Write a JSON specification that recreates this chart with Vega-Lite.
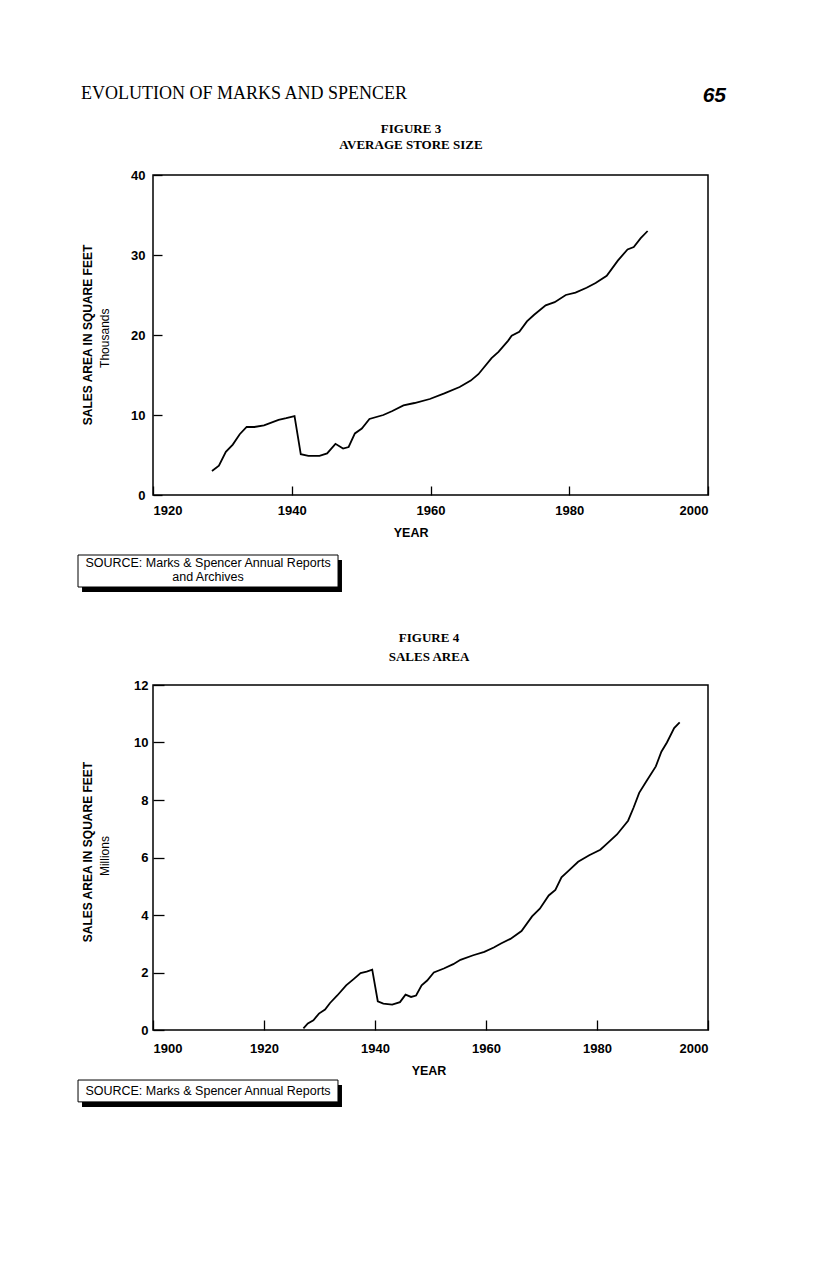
{
  "$schema": "https://vega.github.io/schema/vega-lite/v6.json",
  "background": "white",
  "padding": {"left": 76, "top": 84, "right": 10, "bottom": 10},
  "bounds": "flush",
  "spacing": 190,
  "config": {
    "view": {"stroke": "black", "strokeWidth": 1.5},
    "axis": {"grid": false, "domain": false, "tickColor": "black", "tickWidth": 1.3, "labelFont": "Liberation Sans", "labelFontWeight": "bold", "labelFontSize": 13, "labelColor": "black"}
  },
  "datasets": {
    "store": [
      {"year": 1928.5, "size": 3.0}, {"year": 1929.5, "size": 3.66}, {"year": 1930.5, "size": 5.4}, {"year": 1931.5, "size": 6.3},
      {"year": 1932.5, "size": 7.6}, {"year": 1933.5, "size": 8.5}, {"year": 1934.6, "size": 8.5}, {"year": 1936, "size": 8.7},
      {"year": 1938.1, "size": 9.4}, {"year": 1939.2, "size": 9.6}, {"year": 1940.4, "size": 9.85}, {"year": 1941.3, "size": 5.1},
      {"year": 1942.4, "size": 4.9}, {"year": 1944, "size": 4.9}, {"year": 1945.1, "size": 5.2}, {"year": 1946.3, "size": 6.4},
      {"year": 1947.4, "size": 5.8}, {"year": 1948.2, "size": 6.0}, {"year": 1949.1, "size": 7.7}, {"year": 1950.1, "size": 8.3},
      {"year": 1951.2, "size": 9.5}, {"year": 1953.2, "size": 10.0}, {"year": 1954.5, "size": 10.5}, {"year": 1956.1, "size": 11.2},
      {"year": 1957.7, "size": 11.5}, {"year": 1959.9, "size": 12.0}, {"year": 1962, "size": 12.7}, {"year": 1964.2, "size": 13.5},
      {"year": 1965.8, "size": 14.3}, {"year": 1966.9, "size": 15.1}, {"year": 1968.8, "size": 17.1}, {"year": 1969.8, "size": 17.9},
      {"year": 1971.2, "size": 19.3}, {"year": 1971.7, "size": 19.9}, {"year": 1972.8, "size": 20.4}, {"year": 1973.9, "size": 21.7},
      {"year": 1974.9, "size": 22.5}, {"year": 1976.6, "size": 23.7}, {"year": 1977.9, "size": 24.1}, {"year": 1979.5, "size": 25.0},
      {"year": 1980.9, "size": 25.3}, {"year": 1982.5, "size": 25.9}, {"year": 1983.8, "size": 26.5}, {"year": 1985.4, "size": 27.4},
      {"year": 1987, "size": 29.3}, {"year": 1988.4, "size": 30.7}, {"year": 1989.3, "size": 31.0}, {"year": 1990.3, "size": 32.1},
      {"year": 1991.3, "size": 33.0}
    ],
    "area": [
      {"year": 1927.1, "area": 0.06}, {"year": 1927.9, "area": 0.23}, {"year": 1928.9, "area": 0.34}, {"year": 1929.9, "area": 0.57},
      {"year": 1931, "area": 0.71}, {"year": 1931.9, "area": 0.94}, {"year": 1933.2, "area": 1.2}, {"year": 1934.8, "area": 1.55},
      {"year": 1936.2, "area": 1.78}, {"year": 1937.4, "area": 1.98}, {"year": 1938.5, "area": 2.03}, {"year": 1939.5, "area": 2.1},
      {"year": 1940.5, "area": 1.0}, {"year": 1941.5, "area": 0.92}, {"year": 1943.1, "area": 0.88}, {"year": 1944.5, "area": 0.97},
      {"year": 1945.5, "area": 1.23}, {"year": 1946.5, "area": 1.15}, {"year": 1947.4, "area": 1.2}, {"year": 1948.4, "area": 1.55},
      {"year": 1949.4, "area": 1.72}, {"year": 1950.6, "area": 2.0}, {"year": 1952.4, "area": 2.14}, {"year": 1954.1, "area": 2.29},
      {"year": 1955.4, "area": 2.44}, {"year": 1957.7, "area": 2.6}, {"year": 1959.7, "area": 2.72}, {"year": 1961.4, "area": 2.87},
      {"year": 1962.7, "area": 3.01}, {"year": 1964.4, "area": 3.17}, {"year": 1966.4, "area": 3.44}, {"year": 1968.3, "area": 3.95},
      {"year": 1969.7, "area": 4.22}, {"year": 1971.3, "area": 4.68}, {"year": 1972.5, "area": 4.87}, {"year": 1973.6, "area": 5.31},
      {"year": 1975, "area": 5.56}, {"year": 1976.6, "area": 5.85}, {"year": 1978.6, "area": 6.08}, {"year": 1980.6, "area": 6.27},
      {"year": 1981.9, "area": 6.5}, {"year": 1983.6, "area": 6.8}, {"year": 1985.6, "area": 7.28}, {"year": 1986.6, "area": 7.74},
      {"year": 1987.6, "area": 8.25}, {"year": 1988.9, "area": 8.65}, {"year": 1990.6, "area": 9.17}, {"year": 1991.6, "area": 9.68},
      {"year": 1992.6, "area": 10.0}, {"year": 1993.9, "area": 10.5}, {"year": 1994.9, "area": 10.7}
    ]
  },
  "vconcat": [
    {
      "width": 555,
      "height": 320,
      "layer": [
        {
          "data": {"name": "store"},
          "mark": {"type": "line", "color": "black", "strokeWidth": 1.8},
          "encoding": {
            "x": {"field": "year", "type": "quantitative", "scale": {"domain": [1920, 2000], "nice": false, "zero": false},
                  "axis": {"values": [1920, 1940, 1960, 1980, 2000], "format": "d", "tickSize": -9, "labelPadding": 18, "title": null}},
            "y": {"field": "size", "type": "quantitative", "scale": {"domain": [0, 40], "nice": false},
                  "axis": {"values": [0, 10, 20, 30, 40], "tickSize": -9, "labelPadding": 17, "title": null}}
          }
        },
        {
          "data": {"values": [{}]},
          "mark": {"type": "text", "text": "EVOLUTION OF MARKS AND SPENCER", "font": "Liberation Serif", "fontSize": 18, "align": "left", "baseline": "alphabetic", "color": "black"},
          "encoding": {"x": {"datum": 1909.62, "type": "quantitative"}, "y": {"datum": 49.5, "type": "quantitative"}}
        },
        {
          "data": {"values": [{}]},
          "mark": {"type": "text", "text": "65", "font": "Liberation Sans", "fontWeight": "bold", "fontStyle": "italic", "fontSize": 21, "align": "right", "baseline": "alphabetic", "color": "black"},
          "encoding": {"x": {"datum": 2002.6, "type": "quantitative"}, "y": {"datum": 49.125, "type": "quantitative"}}
        },
        {
          "data": {"values": [{}]},
          "mark": {"type": "text", "text": "FIGURE 3", "font": "Liberation Serif", "fontWeight": "bold", "fontSize": 13, "align": "center", "baseline": "middle", "color": "black"},
          "encoding": {"x": {"datum": 1957.19, "type": "quantitative"}, "y": {"datum": 45.75, "type": "quantitative"}}
        },
        {
          "data": {"values": [{}]},
          "mark": {"type": "text", "text": "AVERAGE STORE SIZE", "font": "Liberation Serif", "fontWeight": "bold", "fontSize": 13, "align": "center", "baseline": "middle", "color": "black"},
          "encoding": {"x": {"datum": 1957.19, "type": "quantitative"}, "y": {"datum": 43.75, "type": "quantitative"}}
        },
        {
          "data": {"values": [{}]},
          "mark": {"type": "text", "text": "SALES AREA IN SQUARE FEET", "font": "Liberation Sans", "fontWeight": "bold", "fontSize": 12, "angle": 270, "align": "center", "baseline": "middle", "color": "black"},
          "encoding": {"x": {"datum": 1910.63, "type": "quantitative"}, "y": {"datum": 20, "type": "quantitative"}}
        },
        {
          "data": {"values": [{}]},
          "mark": {"type": "text", "text": "Thousands", "font": "Liberation Sans", "fontSize": 12, "angle": 270, "align": "center", "baseline": "middle", "color": "black"},
          "encoding": {"x": {"datum": 1913.15, "type": "quantitative"}, "y": {"datum": 19.6, "type": "quantitative"}}
        },
        {
          "data": {"values": [{}]},
          "mark": {"type": "text", "text": "YEAR", "font": "Liberation Sans", "fontWeight": "bold", "fontSize": 12.5, "align": "center", "baseline": "middle", "color": "black"},
          "encoding": {"x": {"datum": 1957.2, "type": "quantitative"}, "y": {"datum": -4.75, "type": "quantitative"}}
        },
        {
          "data": {"values": [{}]},
          "mark": {"type": "rect", "color": "black"},
          "encoding": {"x": {"datum": 1909.77, "type": "quantitative"}, "x2": {"datum": 1947.24},
                       "y": {"datum": -8.125, "type": "quantitative"}, "y2": {"datum": -12.125}}
        },
        {
          "data": {"values": [{}]},
          "mark": {"type": "rect", "fill": "white", "stroke": "black", "strokeWidth": 1},
          "encoding": {"x": {"datum": 1909.19, "type": "quantitative"}, "x2": {"datum": 1946.67},
                       "y": {"datum": -7.5, "type": "quantitative"}, "y2": {"datum": -11.5}}
        },
        {
          "data": {"values": [{}]},
          "mark": {"type": "text", "text": "SOURCE: Marks & Spencer Annual Reports", "font": "Liberation Sans", "fontSize": 12.5, "align": "center", "baseline": "middle", "color": "black"},
          "encoding": {"x": {"datum": 1927.93, "type": "quantitative"}, "y": {"datum": -8.5, "type": "quantitative"}}
        },
        {
          "data": {"values": [{}]},
          "mark": {"type": "text", "text": "and Archives", "font": "Liberation Sans", "fontSize": 12.5, "align": "center", "baseline": "middle", "color": "black"},
          "encoding": {"x": {"datum": 1927.93, "type": "quantitative"}, "y": {"datum": -10.3, "type": "quantitative"}}
        }
      ]
    },
    {
      "width": 555,
      "height": 345,
      "layer": [
        {
          "data": {"name": "area"},
          "mark": {"type": "line", "color": "black", "strokeWidth": 1.8},
          "encoding": {
            "x": {"field": "year", "type": "quantitative", "scale": {"domain": [1900, 2000], "nice": false, "zero": false},
                  "axis": {"values": [1900, 1920, 1940, 1960, 1980, 2000], "format": "d", "tickSize": -10, "labelPadding": 22, "title": null}},
            "y": {"field": "area", "type": "quantitative", "scale": {"domain": [0, 12], "nice": false},
                  "axis": {"values": [0, 2, 4, 6, 8, 10, 12], "tickSize": -11, "labelPadding": 16, "title": null}}
          }
        },
        {
          "data": {"values": [{}]},
          "mark": {"type": "text", "text": "FIGURE 4", "font": "Liberation Serif", "fontWeight": "bold", "fontSize": 13, "align": "center", "baseline": "middle", "color": "black"},
          "encoding": {"x": {"datum": 1949.73, "type": "quantitative"}, "y": {"datum": 13.63, "type": "quantitative"}}
        },
        {
          "data": {"values": [{}]},
          "mark": {"type": "text", "text": "SALES AREA", "font": "Liberation Serif", "fontWeight": "bold", "fontSize": 13, "align": "center", "baseline": "middle", "color": "black"},
          "encoding": {"x": {"datum": 1949.73, "type": "quantitative"}, "y": {"datum": 12.97, "type": "quantitative"}}
        },
        {
          "data": {"values": [{}]},
          "mark": {"type": "text", "text": "SALES AREA IN SQUARE FEET", "font": "Liberation Sans", "fontWeight": "bold", "fontSize": 12, "angle": 270, "align": "center", "baseline": "middle", "color": "black"},
          "encoding": {"x": {"datum": 1888.29, "type": "quantitative"}, "y": {"datum": 6.19, "type": "quantitative"}}
        },
        {
          "data": {"values": [{}]},
          "mark": {"type": "text", "text": "Millions", "font": "Liberation Sans", "fontSize": 12, "angle": 270, "align": "center", "baseline": "middle", "color": "black"},
          "encoding": {"x": {"datum": 1891.44, "type": "quantitative"}, "y": {"datum": 6.05, "type": "quantitative"}}
        },
        {
          "data": {"values": [{}]},
          "mark": {"type": "text", "text": "YEAR", "font": "Liberation Sans", "fontWeight": "bold", "fontSize": 12.5, "align": "center", "baseline": "middle", "color": "black"},
          "encoding": {"x": {"datum": 1949.73, "type": "quantitative"}, "y": {"datum": -1.43, "type": "quantitative"}}
        },
        {
          "data": {"values": [{}]},
          "mark": {"type": "rect", "color": "black"},
          "encoding": {"x": {"datum": 1887.21, "type": "quantitative"}, "x2": {"datum": 1934.05},
                       "y": {"datum": -1.91, "type": "quantitative"}, "y2": {"datum": -2.68}}
        },
        {
          "data": {"values": [{}]},
          "mark": {"type": "rect", "fill": "white", "stroke": "black", "strokeWidth": 1},
          "encoding": {"x": {"datum": 1886.49, "type": "quantitative"}, "x2": {"datum": 1933.33},
                       "y": {"datum": -1.74, "type": "quantitative"}, "y2": {"datum": -2.5}}
        },
        {
          "data": {"values": [{}]},
          "mark": {"type": "text", "text": "SOURCE: Marks & Spencer Annual Reports", "font": "Liberation Sans", "fontSize": 12.5, "align": "center", "baseline": "middle", "color": "black"},
          "encoding": {"x": {"datum": 1909.91, "type": "quantitative"}, "y": {"datum": -2.12, "type": "quantitative"}}
        }
      ]
    }
  ]
}
